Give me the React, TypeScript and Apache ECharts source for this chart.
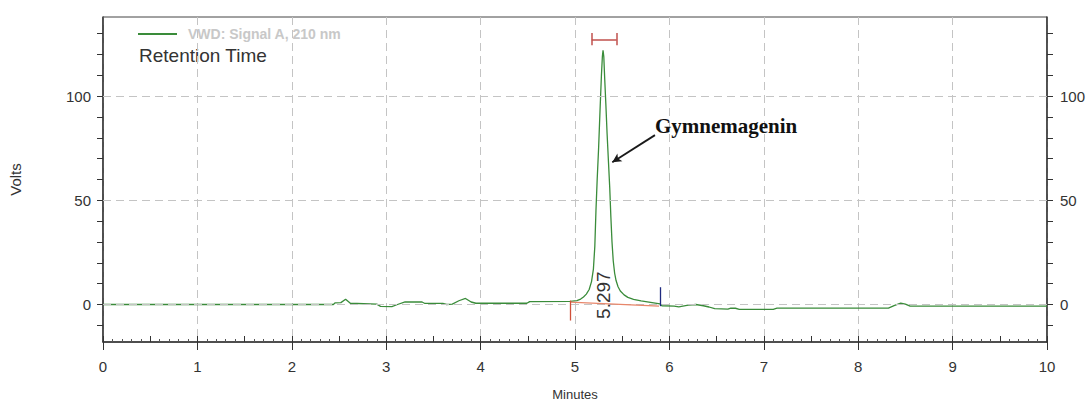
import React, { useEffect, useRef } from "react";
import * as echarts from "echarts";

const seriesName = "VWD: Signal A, 210 nm";
const subtitleText = "Retention Time";
const xAxisTitle = "Minutes";
const yAxisTitle = "Volts";

const timeMin = [
  0, 2.44, 2.46, 2.52, 2.57, 2.62, 2.9, 2.94, 3.06, 3.12, 3.2, 3.38, 3.41, 3.6, 3.64, 3.7, 3.77, 3.84,
  3.9, 3.95, 4.49, 4.52, 4.95, 5.02, 5.06, 5.09, 5.12, 5.15, 5.175, 5.195, 5.21, 5.222, 5.235, 5.25,
  5.265, 5.28, 5.29, 5.297, 5.305, 5.315, 5.327, 5.34, 5.355, 5.368, 5.38, 5.392, 5.405, 5.42, 5.435,
  5.456, 5.48, 5.52, 5.56, 5.62, 5.7, 5.8, 5.9, 5.92, 6.05, 6.1, 6.2, 6.28, 6.36, 6.42, 6.48, 6.62,
  6.65, 6.7, 6.74, 7.1, 7.14, 8.32, 8.38, 8.45, 8.5, 8.55, 10,
];
const volts = [
  0, 0, 0.8, 0.9, 2.5, 0.6, 0.2, -0.9, -1.0, 0, 1.3, 1.2, 0.5, 0.5, 0, 0.2, 1.8, 2.9,
  1.2, 0.6, 0.6, 1.4, 1.5, 1.9, 2.6, 3.6, 5.0, 7.2, 11, 17, 28, 45, 60, 75,
  93, 110, 119, 122, 119, 108, 96, 82, 68, 56, 42, 30, 21, 15, 11.5,
  8.5, 6.5, 4.6, 3.4, 2.5, 1.7, 1.0, 0.3, -0.6, -0.8, -1.1, -0.3, 0, -0.6, -1.2, -2.0, -2.2,
  -1.7, -1.8, -2.3, -2.3, -1.7, -1.7, -0.5, 0.7, 0.2, -0.8, -0.8,
];

const yLabelValues = [0, 50, 100];
const yTickValues = [-10, 0, 10, 20, 30, 40, 50, 60, 70, 80, 90, 100, 110, 120, 130];
const yGridValues = [0, 50, 100];

const peakLabel = "5.297";
const peakLabelPoint = [5.297, 4.5];
const compoundName = "Gymnemagenin";
const compoundLabelPoint = [5.847, 85.5];
const arrowFrom = [5.847, 81.3];
const arrowTo = [5.395, 68.3];
const peakWindow = [5.177, 5.442];
const peakWindowLevel = [124.5, 127, 130.3];
const baselineStart = [4.947, 1.1];
const baselineEnd = [5.89, -0.8];
const startMarker = [4.947, 1.9, -7.7];
const endMarker = [5.9, 8.3, -0.8];

const FONT = "'Liberation Sans', Arial, sans-serif";

export default function App() {
  const ref = useRef<HTMLDivElement>(null);
  useEffect(() => {
    if (!ref.current) return;
    const chart = echarts.init(ref.current, undefined, { renderer: "svg" });
    const signal = timeMin.map((t, i) => [t, volts[i]]);
    const seg = (a: number[], b: number[], color: string, width: number) => [
      { coord: a, lineStyle: { color, width, type: "solid" } },
      { coord: b },
    ];
    const option: any = {
      animation: false,
      backgroundColor: "#ffffff",
      textStyle: { fontFamily: FONT },
      grid: {
        left: 103,
        right: 43,
        top: 17,
        bottom: 59,
        containLabel: false,
        outerBoundsMode: "none",
        show: true,
        borderColor: "#444",
        borderWidth: 1,
        backgroundColor: "transparent",
      },
      legend: {
        data: [seriesName],
        left: 138,
        top: 27,
        padding: 0,
        icon: "rect",
        itemWidth: 39,
        itemHeight: 2,
        textStyle: {
          color: "#c8c8c8",
          fontWeight: "bold",
          fontSize: 14,
          fontFamily: FONT,
          padding: [0, 0, 0, 6],
        },
        selectedMode: false,
      },
      graphic: [
        {
          type: "text",
          left: 139,
          top: 46,
          style: {
            text: subtitleText,
            fontSize: 19,
            fontFamily: FONT,
            fill: "#333",
          },
        },
      ],
      xAxis: [
        {
          type: "value",
          min: 0,
          max: 10,
          interval: 1,
          position: "bottom",
          name: xAxisTitle,
          nameLocation: "middle",
          nameGap: 46,
          nameTextStyle: { fontSize: 13, color: "#333", fontFamily: FONT },
          axisLine: { show: true, onZero: false, lineStyle: { color: "#333", width: 1.5 } },
          axisTick: { show: true, inside: false, length: 8, lineStyle: { color: "#333" } },
          axisLabel: { show: true, fontSize: 15, color: "#333", margin: 17, fontFamily: FONT },
          splitLine: { show: true, lineStyle: { color: "#c4c4c4", type: [8, 5], width: 1 } },
        },
        {
          type: "value",
          min: 0,
          max: 10,
          interval: 0.5,
          position: "bottom",
          axisLine: { show: false, onZero: false },
          axisTick: { show: true, inside: true, length: 6, lineStyle: { color: "#333" } },
          minorTick: { show: true, splitNumber: 5, length: 3, lineStyle: { color: "#555" } },
          axisLabel: { show: false },
          splitLine: { show: false },
        },
      ],
      yAxis: [
        {
          type: "value",
          min: -18,
          max: 138,
          position: "left",
          name: yAxisTitle,
          nameLocation: "middle",
          nameGap: 80,
          nameRotate: 90,
          nameTextStyle: { fontSize: 15, color: "#333", fontFamily: FONT },
          axisLine: { show: true, onZero: false, lineStyle: { color: "#333", width: 1.5 } },
          axisTick: { show: true, inside: false, length: 6, customValues: yTickValues, lineStyle: { color: "#333" } },
          axisLabel: { show: true, fontSize: 15, color: "#333", margin: 12, customValues: yLabelValues, fontFamily: FONT },
          splitLine: { show: false },
        },
        {
          type: "value",
          min: -18,
          max: 138,
          position: "right",
          axisLine: { show: true, onZero: false, lineStyle: { color: "#333", width: 1.5 } },
          axisTick: { show: true, inside: false, length: 6, customValues: yTickValues, lineStyle: { color: "#333" } },
          axisLabel: { show: true, fontSize: 15, color: "#333", margin: 13, customValues: yLabelValues, fontFamily: FONT },
          splitLine: { show: false },
        },
      ],
      series: [
        {
          name: "grid",
          type: "line",
          xAxisIndex: 0,
          yAxisIndex: 0,
          data: [[0, 0]],
          showSymbol: false,
          lineStyle: { opacity: 0 },
          z: 1,
          silent: true,
          markLine: {
            silent: true,
            symbol: ["none", "none"],
            label: { show: false },
            lineStyle: { color: "#c4c4c4", type: [8, 5], width: 1 },
            data: yGridValues.map((v) => ({ yAxis: v })),
          },
        },
        {
          name: seriesName,
          type: "line",
          xAxisIndex: 0,
          yAxisIndex: 0,
          data: signal,
          showSymbol: false,
          symbol: "none",
          smooth: false,
          color: "#3a8c3a",
          lineStyle: { color: "#3a8c3a", width: 1.3 },
          z: 3,
        },
        {
          name: "annotations",
          type: "line",
          xAxisIndex: 0,
          yAxisIndex: 0,
          data: [[0, 0]],
          showSymbol: false,
          lineStyle: { opacity: 0 },
          z: 4,
          silent: true,
          markLine: {
            silent: true,
            symbol: ["none", "none"],
            label: { show: false },
            data: [
              seg([peakWindow[0], peakWindowLevel[1]], [peakWindow[1], peakWindowLevel[1]], "#c0504d", 1.5),
              seg([peakWindow[0], peakWindowLevel[0]], [peakWindow[0], peakWindowLevel[2]], "#c0504d", 1.5),
              seg([peakWindow[1], peakWindowLevel[0]], [peakWindow[1], peakWindowLevel[2]], "#c0504d", 1.5),
              seg(baselineStart, baselineEnd, "#e8866a", 1.3),
              seg([startMarker[0], startMarker[1]], [startMarker[0], startMarker[2]], "#d0503a", 1.3),
              seg([endMarker[0], endMarker[1]], [endMarker[0], endMarker[2]], "#1f2a80", 1.3),
              [
                { coord: arrowFrom, symbol: "none", lineStyle: { color: "#1a1a1a", width: 1.8, type: "solid" } },
                { coord: arrowTo, symbol: "arrow", symbolSize: [7, 9] },
              ],
            ],
          },
          markPoint: {
            silent: true,
            data: [
              {
                coord: compoundLabelPoint,
                symbol: "rect",
                symbolSize: 0,
                label: {
                  show: true,
                  position: "right",
                  distance: 0,
                  formatter: compoundName,
                  fontFamily: "'Liberation Serif', 'Times New Roman', serif",
                  fontWeight: "bold",
                  fontSize: 21,
                  color: "#111",
                },
              },
              {
                coord: peakLabelPoint,
                symbol: "rect",
                symbolSize: 0,
                label: {
                  show: true,
                  position: "inside",
                  rotate: 90,
                  formatter: peakLabel,
                  fontFamily: FONT,
                  fontSize: 19,
                  color: "#333",
                },
              },
            ],
          },
        },
      ],
    };
    chart.setOption(option);
    return () => chart.dispose();
  }, []);
  return (
    <div
      ref={ref}
      style={{ position: "fixed", left: 0, top: 0, width: 1090, height: 401, background: "#fff" }}
    />
  );
}
